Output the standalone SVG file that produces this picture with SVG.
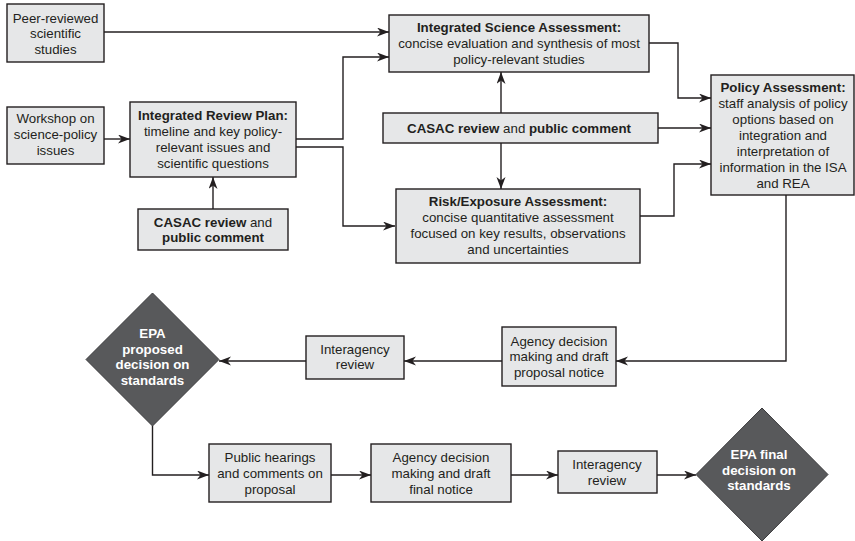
<svg xmlns="http://www.w3.org/2000/svg" width="855" height="541" viewBox="0 0 855 541">
<defs>
<marker id="ah" markerUnits="userSpaceOnUse" markerWidth="13" markerHeight="10" refX="12" refY="4.5" orient="auto">
<path d="M0,0 L12,4.5 L0,9 L3.5,4.5 z" fill="#231f20"/>
</marker>
<style>
.box{fill:#e6e7e8;stroke:#231f20;stroke-width:1.4}
.dia{fill:#58595b;stroke:#3a3a3c;stroke-width:1}
.t{font-family:"Liberation Sans",Arial,sans-serif;font-size:13.3px;fill:#231f20;text-anchor:middle}
.b{font-weight:bold}
.w{fill:#ffffff;font-weight:bold}
.c{fill:none;stroke:#231f20;stroke-width:1.4;marker-end:url(#ah)}
.n{fill:none;stroke:#231f20;stroke-width:1.4}
</style>
</defs>
<rect width="855" height="541" fill="#ffffff"/>
<g id="connectors">
<path class="c" d="M104,32 H389"/>
<path class="c" d="M296,139 H343 V57 H389"/>
<path class="c" d="M104,139 H130"/>
<path class="c" d="M213,209 V177"/>
<path class="c" d="M296,147 H343 V226 H395"/>
<path class="c" d="M501,113 V72"/>
<path class="c" d="M501,143 V189"/>
<path class="c" d="M649,43 H678 V98 H711"/>
<path class="c" d="M658,128 H711"/>
<path class="c" d="M640,216 H674 V164 H711"/>
<path class="c" d="M786,195 V361 H616"/>
<path class="c" d="M502,361 H404"/>
<path class="c" d="M306,361 H219"/>
<path class="c" d="M152.5,426 V475 H209"/>
<path class="c" d="M331,475 H371"/>
<path class="c" d="M511,475 H558"/>
<path class="c" d="M657,475 H696"/>
</g>
<g id="peer">
<rect class="box" x="7" y="4" width="97" height="58"/>
<text class="t" x="55.5" y="22.5">Peer-reviewed</text>
<text class="t" x="55.5" y="38">scientific</text>
<text class="t" x="55.5" y="54">studies</text>
</g>
<g id="workshop">
<rect class="box" x="7" y="107" width="97" height="57"/>
<text class="t" x="55.5" y="123">Workshop on</text>
<text class="t" x="55.5" y="139">science-policy</text>
<text class="t" x="55.5" y="155">issues</text>
</g>
<g id="irp">
<rect class="box" x="130" y="102" width="166" height="75"/>
<text class="t b" x="213" y="120">Integrated Review Plan:</text>
<text class="t" x="213" y="136">timeline and key policy-</text>
<text class="t" x="213" y="152">relevant issues and</text>
<text class="t" x="213" y="168">scientific questions</text>
</g>
<g id="casac1">
<rect class="box" x="138" y="209" width="150" height="41"/>
<text class="t" x="213" y="226.5"><tspan class="b">CASAC review</tspan> and</text>
<text class="t b" x="213" y="242">public comment</text>
</g>
<g id="isa">
<rect class="box" x="389" y="15" width="260" height="57"/>
<text class="t b" x="519" y="31.5">Integrated Science Assessment:</text>
<text class="t" x="519" y="47.5">concise evaluation and synthesis of most</text>
<text class="t" x="519" y="63.5">policy-relevant studies</text>
</g>
<g id="casac2">
<rect class="box" x="383" y="113" width="275" height="30"/>
<text class="t" x="519" y="132.5"><tspan class="b">CASAC review</tspan> and <tspan class="b">public comment</tspan></text>
</g>
<g id="rea">
<rect class="box" x="396" y="189" width="244" height="74"/>
<text class="t b" x="518" y="205.5">Risk/Exposure Assessment:</text>
<text class="t" x="518" y="222">concise quantitative assessment</text>
<text class="t" x="518" y="237.5">focused on key results, observations</text>
<text class="t" x="518" y="253.5">and uncertainties</text>
</g>
<g id="pa">
<rect class="box" x="711" y="75" width="143" height="120"/>
<text class="t b" x="783" y="92">Policy Assessment:</text>
<text class="t" x="783" y="108">staff analysis of policy</text>
<text class="t" x="783" y="124">options based on</text>
<text class="t" x="783" y="140">integration and</text>
<text class="t" x="783" y="156">interpretation of</text>
<text class="t" x="783" y="172">information in the ISA</text>
<text class="t" x="783" y="188">and REA</text>
</g>
<g id="agency1">
<rect class="box" x="502" y="327" width="114" height="59"/>
<text class="t" x="559" y="345.5">Agency decision</text>
<text class="t" x="559" y="361">making and draft</text>
<text class="t" x="559" y="377">proposal notice</text>
</g>
<g id="inter1">
<rect class="box" x="306" y="336" width="98" height="43"/>
<text class="t" x="355" y="353.5">Interagency</text>
<text class="t" x="355" y="368.5">review</text>
</g>
<g id="epa1">
<polygon class="dia" points="152.5,293 219,359.5 152.5,426 86,359.5"/>
<text class="t w" x="152.5" y="337.5">EPA</text>
<text class="t w" x="152.5" y="353.5">proposed</text>
<text class="t w" x="152.5" y="368.5">decision on</text>
<text class="t w" x="152.5" y="384.5">standards</text>
</g>
<g id="hearings">
<rect class="box" x="209" y="444" width="122" height="58"/>
<text class="t" x="270" y="461.5">Public hearings</text>
<text class="t" x="270" y="477.5">and comments on</text>
<text class="t" x="270" y="493.5">proposal</text>
</g>
<g id="agency2">
<rect class="box" x="371" y="444" width="140" height="58"/>
<text class="t" x="441" y="461.5">Agency decision</text>
<text class="t" x="441" y="477.5">making and draft</text>
<text class="t" x="441" y="493.5">final notice</text>
</g>
<g id="inter2">
<rect class="box" x="558" y="451" width="99" height="42"/>
<text class="t" x="607" y="468.5">Interagency</text>
<text class="t" x="607" y="484.5">review</text>
</g>
<g id="epa2">
<polygon class="dia" points="762,408 828,474.5 762,541 696,474.5"/>
<text class="t w" x="759" y="458.5">EPA final</text>
<text class="t w" x="759" y="474.5">decision on</text>
<text class="t w" x="759" y="489.5">standards</text>
</g>
</svg>
